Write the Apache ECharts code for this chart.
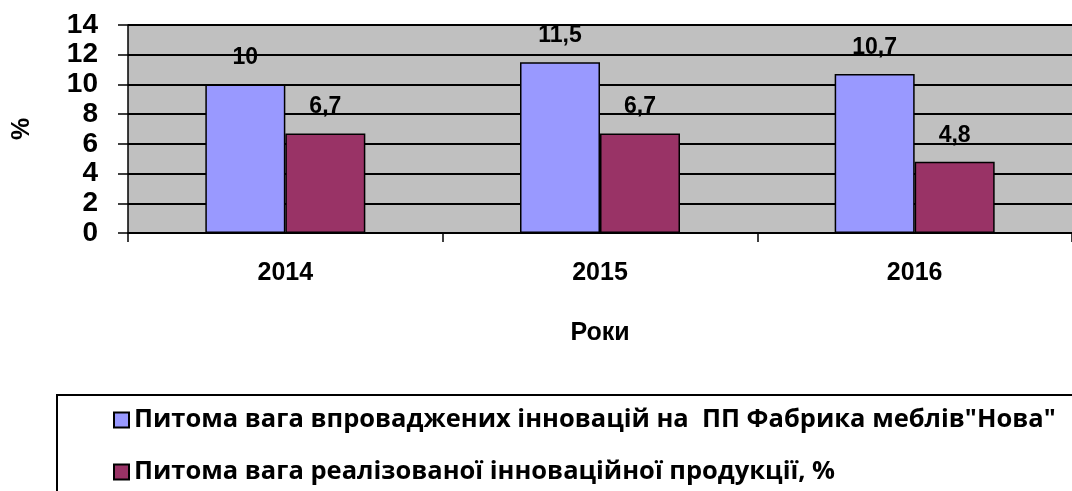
<!DOCTYPE html>
<html><head><meta charset="utf-8">
<script src="https://cdn.jsdelivr.net/npm/echarts@6/dist/echarts.min.js"></script>
<style>html,body{margin:0;padding:0;background:#fff}#c{width:1072px;height:491px}</style>
</head><body><div id="c"></div>
<script>
var categories = ['2014', '2015', '2016'];
var seriesNames = ['Питома вага впроваджених інновацій на  ПП Фабрика меблів"Нова"', 'Питома вага реалізованої інноваційної продукції, %'];
var innovShare = [10, 11.5, 10.7];
var productShare = [6.7, 6.7, 4.8];
var yTicks = [0, 2, 4, 6, 8, 10, 12, 14];

var F = '"Liberation Sans", Arial, sans-serif';
var chart = echarts.init(document.getElementById('c'));
var lbl = {show: true, position: 'top', distance: 15, color: '#000', fontWeight: 'bold', fontSize: 23, fontFamily: F,
  formatter: function (p) { return String(p.value).replace('.', ','); }};
chart.setOption({
  animation: false,
  grid: {left: 128, right: 0, top: 25, bottom: 258, backgroundColor: '#c0c0c0', show: true, borderWidth: 0},
  graphic: [{type: 'rect', shape: {x: 57, y: 395, width: 1100, height: 130},
    style: {fill: 'none', stroke: '#000', lineWidth: 2}, silent: true, z: 10}],
  legend: {
    orient: 'vertical', left: 57, top: 395, height: 90, padding: [12, 10, 12, 56], itemGap: 26,
    borderWidth: 0, icon: 'rect', itemWidth: 15, itemHeight: 15,
    textStyle: {fontSize: 25.5, fontWeight: 'bold', color: '#000', fontFamily: '"Open Sans", sans-serif'},
    data: seriesNames
  },
  xAxis: {
    type: 'category', data: categories,
    name: 'Роки', nameLocation: 'middle', nameGap: 88,
    nameTextStyle: {fontSize: 25, fontWeight: 'bold', color: '#000', fontFamily: F},
    axisLine: {lineStyle: {color: '#000', width: 1.5}},
    axisTick: {show: true, length: 9, lineStyle: {color: '#000', width: 1.5}},
    axisLabel: {margin: 28, fontSize: 25, fontWeight: 'bold', color: '#000', fontFamily: F}
  },
  yAxis: {
    type: 'value', min: yTicks[0], max: yTicks[yTicks.length - 1], interval: 2,
    name: '%', nameLocation: 'middle', nameGap: 93, nameRotate: 90,
    nameTextStyle: {fontSize: 25, fontWeight: 'bold', color: '#000', fontFamily: F},
    axisLine: {show: true, lineStyle: {color: '#000', width: 1.5}},
    axisTick: {show: true, length: 10, lineStyle: {color: '#000', width: 1.5}},
    axisLabel: {margin: 30, fontSize: 28, fontWeight: 'bold', color: '#000', fontFamily: F},
    splitLine: {lineStyle: {color: '#000', width: 1.8}}
  },
  series: [
    {name: seriesNames[0], type: 'bar', data: innovShare, barWidth: 80, barGap: '0%',
     itemStyle: {color: '#9999ff', borderColor: '#000', borderWidth: 1.5}, label: lbl},
    {name: seriesNames[1], type: 'bar', data: productShare, barWidth: 80,
     itemStyle: {color: '#993366', borderColor: '#000', borderWidth: 1.5}, label: lbl}
  ]
});
</script></body></html>
